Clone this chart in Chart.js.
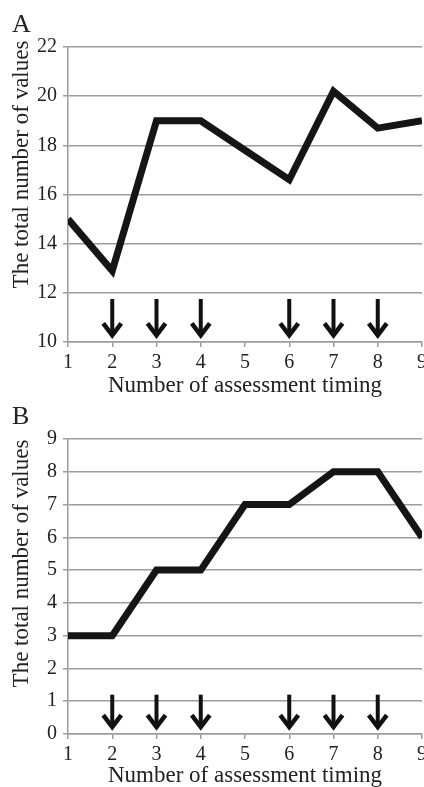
<!DOCTYPE html>
<html>
<head>
<meta charset="utf-8">
<script src="https://cdn.jsdelivr.net/npm/chart.js@4/dist/chart.umd.min.js"></script>
<style>
  html, body { margin: 0; padding: 0; background: #fff; overflow: hidden; }
  body { width: 424px; height: 787px; position: relative; }
  canvas { position: absolute; left: 0; }
  #chartA { top: 0; }
  #chartB { top: 392px; }
</style>
</head>
<body>
<canvas id="chartA" width="424" height="400"></canvas>
<canvas id="chartB" width="424" height="400"></canvas>
<script>
// data
const timings = [1, 2, 3, 4, 5, 6, 7, 8, 9];
const totalA = [15.0, 12.9, 19.0, 19.0, 17.8, 16.6, 20.2, 18.7, 19.0];
const totalB = [3, 3, 5, 5, 7, 7, 8, 8, 6];
const arrowTimings = [2, 3, 4, 6, 7, 8];
const arrowSpanA = [11.75, 10.15]; // top, tip (y values)
const arrowSpanB = [1.2, 0.12];

const xTitle = 'Number of assessment timing';
const yTitle = 'The total number of values';

const SERIF = '"Liberation Serif", "DejaVu Serif", serif';
const GRID = '#9c9c9c';
Chart.defaults.font.family = SERIF;
Chart.defaults.color = '#222';

// arrows, panel letter and y title
const extras = {
  id: 'extras',
  afterDatasetsDraw(chart, args, opts) {
    const ctx = chart.ctx;
    const xs = chart.scales.x, ys = chart.scales.y;
    ctx.save();
    ctx.strokeStyle = '#111';
    ctx.lineJoin = 'miter';
    opts.arrows.forEach(t => {
      const x = xs.getPixelForValue(t);
      const y1 = ys.getPixelForValue(opts.span[0]);
      const y2 = ys.getPixelForValue(opts.span[1]);
      ctx.lineWidth = 4;
      ctx.beginPath();
      ctx.moveTo(x, y1);
      ctx.lineTo(x, y2 - 3);
      ctx.stroke();
      ctx.lineWidth = 4.5;
      ctx.beginPath();
      ctx.moveTo(x - 9, y2 - 15);
      ctx.lineTo(x, y2 - 3);
      ctx.lineTo(x + 9, y2 - 15);
      ctx.stroke();
    });
    ctx.restore();
  },
  afterDraw(chart, args, opts) {
    const ctx = chart.ctx;
    const area = chart.chartArea;
    ctx.save();
    ctx.fillStyle = '#222';
    ctx.font = '26px ' + SERIF;
    ctx.textAlign = 'left';
    ctx.textBaseline = 'alphabetic';
    ctx.fillText(opts.letter, 12, 32);
    ctx.font = '23px ' + SERIF;
    ctx.translate(28, (area.top + area.bottom) / 2 - opts.titleShift);
    ctx.rotate(-Math.PI / 2);
    ctx.textAlign = 'center';
    ctx.fillText(yTitle, 0, 0);
    ctx.restore();
  }
};

function makeChart(id, values, yMin, yMax, step, span, letter, titleShift, titlePad) {
  return new Chart(document.getElementById(id), {
    type: 'line',
    data: {
      datasets: [{
        data: timings.map((t, i) => ({ x: t, y: values[i] })),
        borderColor: '#151515',
        borderWidth: 7,
        borderJoinStyle: 'miter',
        pointRadius: 0,
        tension: 0
      }]
    },
    options: {
      responsive: false,
      animation: false,
      layout: { padding: { top: 47, right: 2, left: 0, bottom: 0 } },
      plugins: {
        legend: { display: false },
        tooltip: { enabled: false },
        extras: { arrows: arrowTimings, span: span, letter: letter, titleShift: titleShift }
      },
      scales: {
        x: {
          type: 'linear',
          min: 1, max: 9,
          ticks: { stepSize: 1, padding: 4, font: { size: 20 }, color: '#222' },
          grid: { drawOnChartArea: false, drawTicks: true, tickLength: 5, color: GRID, lineWidth: 1.5 },
          border: { color: GRID, width: 1.5 },
          title: { display: true, text: xTitle, font: { size: 23 }, color: '#222', padding: { top: 0, bottom: titlePad } },
          afterFit(scale) {
            scale.height = 58;
            scale.paddingLeft = 0;
            scale.paddingRight = 0;
          }
        },
        y: {
          min: yMin, max: yMax,
          ticks: { stepSize: step, padding: 6, font: { size: 20 }, color: '#222' },
          grid: { color: GRID, lineWidth: 1.5, tickLength: 5 },
          border: { color: GRID, width: 1.5 },
          afterFit(scale) { scale.width = 68; }
        }
      }
    },
    plugins: [extras]
  });
}

makeChart('chartA', totalA, 10, 22, 2, arrowSpanA, 'A', 30, 0);
makeChart('chartB', totalB, 0, 9, 1, arrowSpanB, 'B', 23, 2);
</script>
</body>
</html>
